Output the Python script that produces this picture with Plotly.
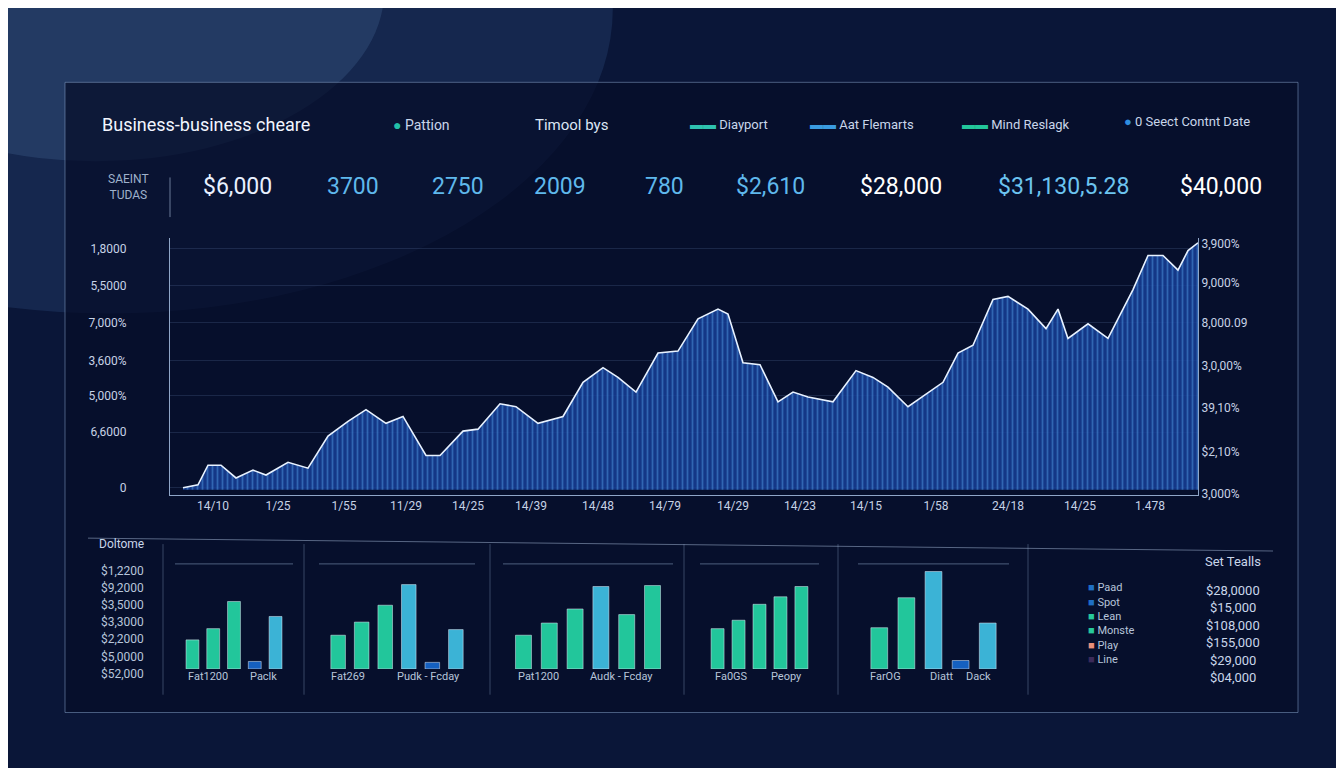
import plotly.graph_objects as go

W, H = 1344, 768

# main area series (x = horizontal position, y = height)
main_x = [175, 190, 200, 213, 228, 245, 258, 280, 300, 320, 340, 358, 378, 395, 418, 432, 455, 470,
          492, 508, 530, 555, 575, 595, 610, 628, 650, 670, 690, 710, 720, 735, 752, 770, 785, 800,
          825, 848, 865, 880, 900, 935, 950, 965, 985, 1000, 1020, 1038, 1050, 1060, 1080, 1100,
          1125, 1140, 1155, 1170, 1180, 1190]
main_y = [2, 5, 25, 25, 12, 20, 15, 28, 22, 55, 70, 82, 68, 75, 35, 35, 60, 62,
          88, 85, 68, 75, 110, 125, 115, 100, 140, 142, 175, 185, 180, 130, 128, 90, 100, 95,
          90, 122, 115, 105, 85, 110, 140, 148, 195, 198, 185, 165, 185, 155, 170, 155,
          205, 240, 240, 225, 245, 253]
x_tick_pos = [205, 270, 336, 398, 460, 523, 590, 657, 725, 792, 858, 928, 1000, 1072, 1142]
x_tick_txt = ["14/10", "1/25", "1/55", "11/29", "14/25", "14/39", "14/48", "14/79", "14/29",
              "14/23", "14/15", "1/58", "24/18", "14/25", "1.478"]
left_pos = [2, 59, 96, 132, 171, 209, 247]
left_txt = ["0", "6,6000", "5,000%", "3,600%", "7,000%", "5,5000", "1,8000"]
right_pos = [252, 212, 171, 127, 84, 39, -4]
right_txt = ["3,900%", "9,000%", "8,000.09", "3,0,00%", "39,10%", "$2,10%", "3,000%"]

kpi_labels = ["$6,000", "3700", "2750", "2009", "780", "$2,610", "$28,000", "$31,130,5.28", "$40,000"]
kpi_x = [229, 345, 450, 552, 656, 762, 893, 1055, 1213]
kpi_col = ["#e8f0ff", "#5fb8ec", "#5fb8ec", "#5fb8ec", "#5fb8ec", "#5fb8ec", "#ffffff", "#6cc4f0", "#ffffff"]

# small bar panels: heights and colour keys (g = green, c = cyan, d = dark blue)
panel_vals = [[31, 43, 72, 8, 56],
              [36, 50, 68, 90, 7, 42],
              [36, 49, 64, 88, 58, 89],
              [43, 52, 69, 77, 88],
              [44, 76, 104, 9, 49]]
panel_cols = [["g", "g", "g", "d", "c"],
              ["g", "g", "g", "c", "d", "c"],
              ["g", "g", "g", "c", "g", "g"],
              ["g", "g", "g", "g", "g"],
              ["g", "g", "c", "d", "c"]]
panel_px = [(172, 280), (316, 462), (500, 660), (697, 806), (855, 996)]
panel_labels = [[("Fat1200", 200), ("Paclk", 255)], [("Fat269", 340), ("Pudk - Fcday", 420)],
                [("Pat1200", 530), ("Audk - Fcday", 613)], [("Fa0GS", 723), ("Peopy", 778)],
                [("FarOG", 877), ("Diatt", 933), ("Dack", 970)]]
left_money = ["$1,2200", "$9,2000", "$3,5000", "$3,3000", "$2,2000", "$5,0000", "$52,000"]
legend_names = ["Paad", "Spot", "Lean", "Monste", "Play", "Line"]
legend_cols = ["#1f6fc4", "#1f6fc4", "#27c99a", "#27c99a", "#e8907a", "#3b2a5a"]
legend_vals = ["$28,0000", "$15,000", "$108,000", "$155,000", "$29,000", "$04,000"]

COL = {"g": "#22c69b", "c": "#3bb3d6", "d": "#1560c0"}

def px(x):
    return x / W

def py(y):
    return 1 - y / H

def note(x, y, text, size=12, color="#c9d6ea", anchor="center"):
    # text rendered a little low, nudge up
    return dict(x=px(x), y=py(y - 13), xref="paper", yref="paper", text=text, showarrow=False,
                xanchor=anchor, yanchor="middle", font=dict(size=size, color=color))

fig = go.Figure()

fig.add_trace(go.Scatter(x=main_x, y=main_y, mode="lines", fill="tozeroy",
                         line=dict(color="#e8f2ff", width=1.6),
                         fillpattern=dict(shape="|", fgcolor="#4f95e0", bgcolor="rgba(22,62,150,0.85)",
                                          size=5, solidity=0.35),
                         xaxis="x", yaxis="y", hoverinfo="skip"))
fig.add_trace(go.Scatter(x=[main_x[0]], y=[0], mode="markers", marker=dict(opacity=0),
                         xaxis="x", yaxis="y2", hoverinfo="skip"))

layout_axes = dict(
    xaxis=dict(domain=[px(162), px(1190)], range=[162, 1190], tickvals=x_tick_pos, ticktext=x_tick_txt,
               showgrid=False, zeroline=False, showline=True, linecolor="#8fa6c8",
               tickfont=dict(color="#c6d2e6", size=12), anchor="y"),
    yaxis=dict(domain=[py(490), py(231)], range=[-5, 258], tickvals=left_pos, ticktext=left_txt,
               showgrid=True, gridcolor="rgba(120,150,200,0.18)", zeroline=False,
               showline=True, linecolor="#8fa6c8", ticklabelstandoff=40,
               tickfont=dict(color="#c6d2e6", size=12), anchor="x"),
    yaxis2=dict(overlaying="y", side="right", range=[-5, 258], tickvals=right_pos, ticktext=right_txt,
                showgrid=False, zeroline=False, showline=True, linecolor="#8fa6c8",
                tickfont=dict(color="#c6d2e6", size=12), anchor="x"),
)

for i, (vals, cols) in enumerate(zip(panel_vals, panel_cols)):
    n = i + 2
    fig.add_trace(go.Bar(x=list(range(len(vals))), y=vals, marker_color=[COL[c] for c in cols],
                         width=0.62, xaxis=f"x{n}", yaxis=f"y{n + 1}", hoverinfo="skip"))
    x0, x1 = panel_px[i]
    layout_axes[f"xaxis{n}"] = dict(domain=[px(x0), px(x1)], range=[-0.6, len(vals) - 0.4], visible=False,
                                    anchor=f"y{n + 1}")
    layout_axes[f"yaxis{n + 1}"] = dict(domain=[py(666), py(562)], range=[0, 110], visible=False,
                                        anchor=f"x{n}")

ann = []
ann.append(note(92, 130, "Business-business cheare", 18, "#f2f6ff", "left"))
ann.append(note(383, 130, "<span style='color:#22c0a8'>●</span> Pattion", 14, "#c9d6ea", "left"))
ann.append(note(525, 130, "Timool bys", 15, "#dce6f5", "left"))
for t, c, x in [("Diayport", "#2ec2b0", 680), ("Aat Flemarts", "#3a9be0", 800),
                ("Mind Reslagk", "#22c69b", 952)]:
    ann.append(note(x, 130, f"<span style='color:{c}'>▬▬</span> {t}", 13, "#c9d6ea", "left"))
ann.append(note(1114, 127, "<span style='color:#2f8ee0'>●</span> 0 Seect Contnt Date", 13, "#c9d6ea", "left"))
ann.append(note(120, 193, "SAEINT<br>TUDAS", 12, "#9fb2cc"))
for t, x, c in zip(kpi_labels, kpi_x, kpi_col):
    ann.append(note(x, 192, t, 23, c))
ann.append(note(113, 553, "Doltome", 12))
for j, t in enumerate(left_money):
    ann.append(note(114, 580 + j * 17.3, t, 12, "#b7c5da"))
for labs in panel_labels:
    for t, x in labs:
        ann.append(note(x, 687, t, 11, "#b7c5da"))
ann.append(note(1225, 571, "Set Tealls", 13))
for j, (nm, c, v) in enumerate(zip(legend_names, legend_cols, legend_vals)):
    ann.append(note(1078, 597 + j * 14.5, f"<span style='color:{c}'>■</span> {nm}", 11, "#b7c5da", "left"))
    ann.append(note(1225, 600 + j * 17.5, v, 13))

shapes = [
    # soft light glow top-left
    dict(type="circle", xref="paper", yref="paper", x0=-0.3, x1=0.45, y0=0.6, y1=1.4,
         fillcolor="rgba(80,130,190,0.16)", line_width=0, layer="below"),
    dict(type="circle", xref="paper", yref="paper", x0=-0.15, x1=0.28, y0=0.8, y1=1.25,
         fillcolor="rgba(110,160,210,0.16)", line_width=0, layer="below"),
    # main panel
    dict(type="rect", xref="paper", yref="paper", x0=px(57), x1=px(1290), y0=py(710), y1=py(74),
         fillcolor="rgba(6,12,40,0.72)", line=dict(color="rgba(140,170,210,0.5)", width=1), layer="below"),
    dict(type="line", xref="paper", yref="paper", x0=px(162), x1=px(162), y0=py(210), y1=py(170),
         line=dict(color="rgba(170,190,220,0.6)", width=1)),
    dict(type="line", xref="paper", yref="paper", x0=px(80), x1=px(1265), y0=py(534), y1=py(547),
         line=dict(color="rgba(170,190,220,0.5)", width=1)),
]
for x in [155, 296, 482, 676, 830, 1020]:
    shapes.append(dict(type="line", xref="paper", yref="paper", x0=px(x), x1=px(x), y0=py(692), y1=py(540),
                       line=dict(color="rgba(150,175,210,0.35)", width=1)))
for x0, x1 in panel_px:
    shapes.append(dict(type="line", xref="paper", yref="paper", x0=px(x0 - 5), x1=px(x1 + 5),
                       y0=py(560), y1=py(560), line=dict(color="rgba(150,175,210,0.5)", width=1)))

fig.update_layout(width=W, height=H, margin=dict(l=0, r=0, t=0, b=0), showlegend=False,
                  paper_bgcolor="#0a1638", plot_bgcolor="rgba(0,0,0,0)",
                  font=dict(family="Roboto", color="#c9d6ea"),
                  annotations=ann, shapes=shapes, **layout_axes)

fig.write_html("out.html")
